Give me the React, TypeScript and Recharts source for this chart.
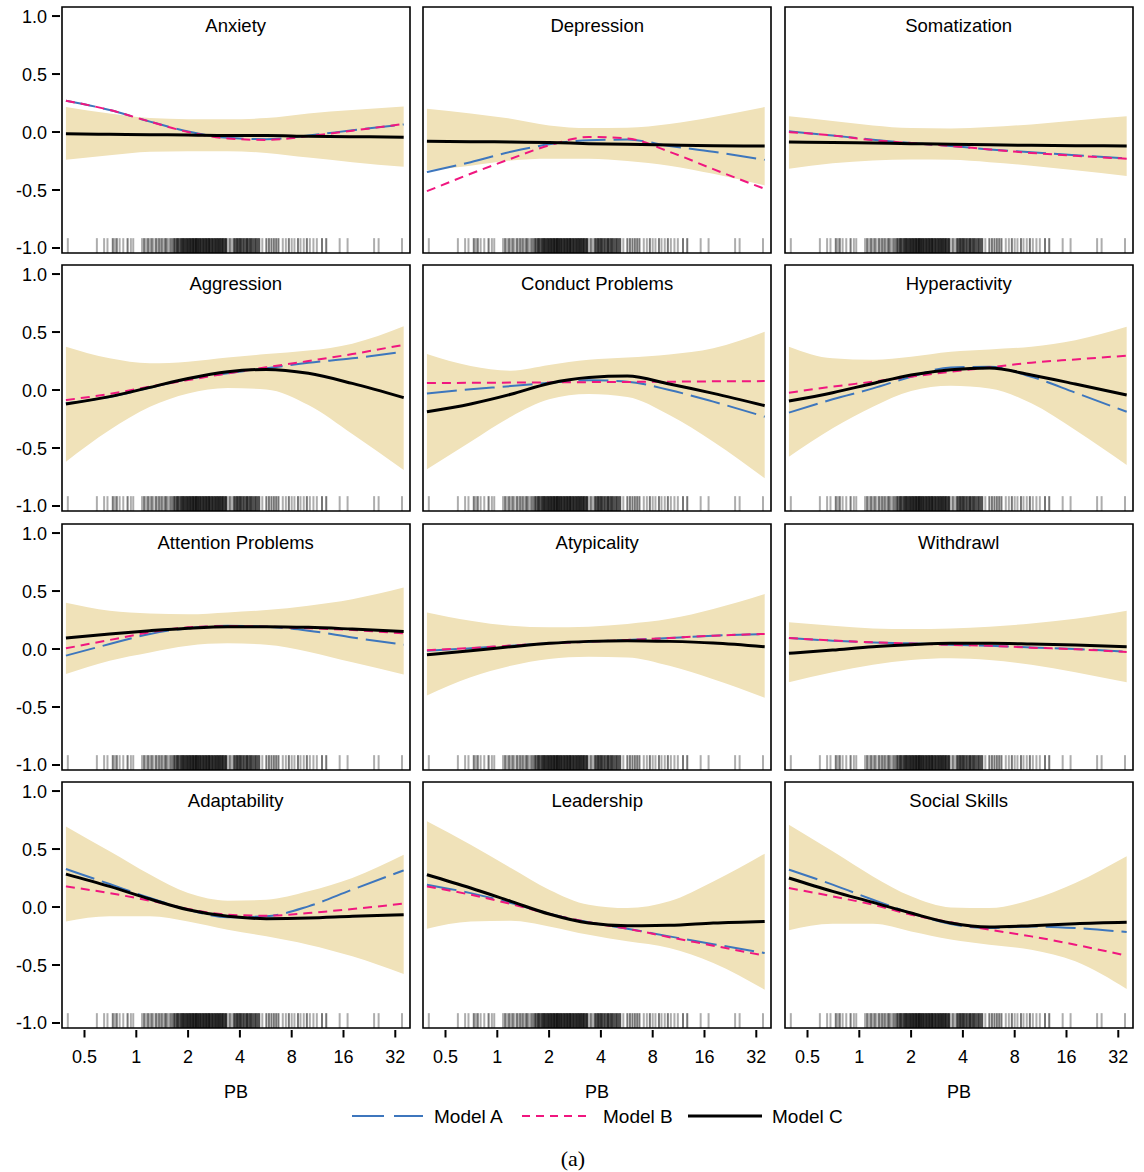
import React from 'react';
import { ComposedChart, Area, Line, XAxis, YAxis, ReferenceLine, ReferenceArea } from 'recharts';

// ---------- data ----------
const PB = [0.39, 0.7, 1.2, 2, 3.4, 5.7, 10, 18, 35.8];
const X_TICKS = [0.5, 1, 2, 4, 8, 16, 32];
const Y_TICKS = [-1, -0.5, 0, 0.5, 1];

const anxietyLo = [-0.24, -0.2, -0.17, -0.165, -0.165, -0.18, -0.22, -0.26, -0.3];
const anxietyHi = [0.216, 0.16, 0.12, 0.11, 0.11, 0.12, 0.16, 0.19, 0.22];
const anxietyA = [0.27, 0.19, 0.09, 0.005, -0.05, -0.062, -0.03, 0.015, 0.065];
const anxietyB = [0.27, 0.19, 0.09, 0.0, -0.055, -0.068, -0.035, 0.012, 0.07];
const anxietyC = [-0.015, -0.02, -0.023, -0.026, -0.03, -0.03, -0.037, -0.04, -0.045];

const depressionLo = [-0.33, -0.29, -0.245, -0.23, -0.23, -0.25, -0.29, -0.36, -0.46];
const depressionHi = [0.2, 0.16, 0.115, 0.057, 0.034, 0.037, 0.07, 0.13, 0.215];
const depressionA = [-0.345, -0.26, -0.17, -0.106, -0.07, -0.065, -0.12, -0.17, -0.24];
const depressionB = [-0.51, -0.36, -0.23, -0.115, -0.043, -0.055, -0.17, -0.32, -0.49];
const depressionC = [-0.08, -0.083, -0.086, -0.09, -0.1, -0.106, -0.112, -0.118, -0.12];

const somatizationLo = [-0.316, -0.27, -0.245, -0.236, -0.24, -0.26, -0.29, -0.33, -0.38];
const somatizationHi = [0.135, 0.095, 0.057, 0.034, 0.03, 0.043, 0.066, 0.1, 0.135];
const somatizationA = [0.006, -0.03, -0.066, -0.095, -0.12, -0.15, -0.175, -0.2, -0.227];
const somatizationB = [0.0, -0.03, -0.07, -0.095, -0.12, -0.15, -0.18, -0.205, -0.23];
const somatizationC = [-0.086, -0.09, -0.095, -0.1, -0.106, -0.11, -0.115, -0.118, -0.12];

const aggressionLo = [-0.618, -0.345, -0.144, -0.029, 0.017, 0.005, -0.13, -0.38, -0.69];
const aggressionHi = [0.374, 0.273, 0.23, 0.244, 0.28, 0.31, 0.34, 0.4, 0.55];
const aggressionA = [-0.115, -0.06, 0.02, 0.095, 0.144, 0.187, 0.236, 0.273, 0.33];
const aggressionB = [-0.086, -0.034, 0.029, 0.086, 0.144, 0.196, 0.25, 0.31, 0.39];
const aggressionC = [-0.12, -0.057, 0.023, 0.1, 0.158, 0.178, 0.144, 0.057, -0.066];

const conductLo = [-0.684, -0.445, -0.23, -0.08, -0.034, -0.06, -0.215, -0.445, -0.76];
const conductHi = [0.31, 0.207, 0.167, 0.216, 0.26, 0.28, 0.307, 0.36, 0.503];
const conductA = [-0.029, 0.006, 0.034, 0.063, 0.085, 0.072, 0.0, -0.1, -0.23];
const conductB = [0.06, 0.062, 0.064, 0.066, 0.068, 0.07, 0.072, 0.075, 0.077];
const conductC = [-0.187, -0.12, -0.037, 0.057, 0.108, 0.12, 0.052, -0.029, -0.135];

const hyperLo = [-0.575, -0.33, -0.144, -0.009, 0.037, 0.014, -0.115, -0.345, -0.647];
const hyperHi = [0.374, 0.273, 0.26, 0.287, 0.33, 0.35, 0.374, 0.43, 0.546];
const hyperA = [-0.195, -0.08, 0.014, 0.115, 0.195, 0.2, 0.115, -0.023, -0.187];
const hyperB = [-0.023, 0.029, 0.072, 0.115, 0.158, 0.195, 0.236, 0.264, 0.296];
const hyperC = [-0.095, -0.023, 0.057, 0.13, 0.175, 0.19, 0.13, 0.052, -0.043];

const attentionLo = [-0.215, -0.1, -0.029, 0.029, 0.049, 0.037, -0.023, -0.115, -0.22];
const attentionHi = [0.4, 0.33, 0.307, 0.3, 0.316, 0.336, 0.374, 0.43, 0.53];
const attentionA = [-0.057, 0.043, 0.13, 0.18, 0.2, 0.193, 0.158, 0.1, 0.037];
const attentionB = [0.006, 0.078, 0.144, 0.187, 0.198, 0.193, 0.18, 0.164, 0.135];
const attentionC = [0.095, 0.13, 0.158, 0.18, 0.193, 0.193, 0.187, 0.172, 0.152];

const atypicalityLo = [-0.4, -0.244, -0.144, -0.086, -0.066, -0.072, -0.144, -0.26, -0.42];
const atypicalityHi = [0.316, 0.244, 0.2, 0.187, 0.193, 0.216, 0.26, 0.345, 0.474];
const atypicalityA = [-0.014, 0.006, 0.029, 0.049, 0.063, 0.078, 0.095, 0.115, 0.13];
const atypicalityB = [-0.01, 0.008, 0.03, 0.05, 0.063, 0.078, 0.095, 0.115, 0.13];
const atypicalityC = [-0.049, -0.014, 0.02, 0.049, 0.066, 0.072, 0.066, 0.052, 0.02];

const withdrawlLo = [-0.287, -0.2, -0.135, -0.095, -0.08, -0.095, -0.135, -0.2, -0.287];
const withdrawlHi = [0.23, 0.2, 0.178, 0.172, 0.178, 0.193, 0.22, 0.26, 0.33];
const withdrawlA = [0.095, 0.072, 0.057, 0.049, 0.037, 0.029, 0.014, 0.0, -0.023];
const withdrawlB = [0.095, 0.074, 0.058, 0.048, 0.036, 0.028, 0.012, -0.002, -0.025];
const withdrawlC = [-0.037, -0.009, 0.02, 0.037, 0.049, 0.049, 0.043, 0.034, 0.02];

const adaptLo = [-0.124, -0.08, -0.08, -0.124, -0.195, -0.253, -0.325, -0.425, -0.578];
const adaptHi = [0.695, 0.48, 0.28, 0.12, 0.055, 0.063, 0.135, 0.25, 0.45];
const adaptA = [0.328, 0.198, 0.078, -0.023, -0.089, -0.08, 0.006, 0.15, 0.316];
const adaptB = [0.178, 0.12, 0.055, -0.017, -0.066, -0.075, -0.052, -0.017, 0.029];
const adaptC = [0.284, 0.178, 0.069, -0.023, -0.08, -0.1, -0.095, -0.08, -0.066];

const leaderLo = [-0.187, -0.124, -0.118, -0.167, -0.24, -0.296, -0.353, -0.483, -0.713];
const leaderHi = [0.74, 0.537, 0.336, 0.15, 0.02, -0.009, 0.049, 0.22, 0.46];
const leaderA = [0.193, 0.12, 0.034, -0.057, -0.132, -0.187, -0.253, -0.32, -0.397];
const leaderB = [0.178, 0.106, 0.026, -0.06, -0.132, -0.187, -0.26, -0.333, -0.42];
const leaderC = [0.279, 0.164, 0.049, -0.06, -0.138, -0.161, -0.158, -0.138, -0.124];

const socialLo = [-0.2, -0.144, -0.144, -0.21, -0.28, -0.325, -0.368, -0.468, -0.707];
const socialHi = [0.71, 0.48, 0.264, 0.092, -0.003, -0.009, 0.063, 0.207, 0.437];
const socialA = [0.322, 0.193, 0.063, -0.052, -0.147, -0.181, -0.167, -0.181, -0.216];
const socialB = [0.164, 0.092, 0.02, -0.066, -0.132, -0.195, -0.253, -0.325, -0.42];
const socialC = [0.25, 0.135, 0.04, -0.052, -0.138, -0.172, -0.161, -0.144, -0.132];

// rug: [PB value, number of observations]
const RUG: [number, number][] = [
  [0.40, 1], [0.59, 1], [0.65, 1], [0.68, 1], [0.73, 2], [0.75, 1], [0.77, 2], [0.80, 1], [0.84, 1], [0.89, 2], [0.93, 1], [0.96, 1],
  [1.08, 1], [1.11, 2], [1.14, 1], [1.17, 2], [1.20, 1], [1.23, 2], [1.26, 1], [1.30, 2], [1.33, 1], [1.36, 2], [1.40, 2], [1.43, 1],
  [1.47, 2], [1.50, 2], [1.54, 1], [1.58, 2], [1.62, 2],
  [1.66, 3], [1.69, 2], [1.72, 3], [1.75, 3], [1.78, 2], [1.81, 3], [1.84, 3], [1.87, 3],
  [1.90, 4], [1.94, 4], [1.98, 5], [2.02, 4], [2.06, 5], [2.10, 4], [2.14, 5], [2.18, 4], [2.22, 5], [2.26, 4],
  [2.30, 5], [2.35, 5], [2.40, 4], [2.45, 5], [2.50, 4], [2.55, 5], [2.60, 4], [2.65, 5], [2.70, 4], [2.76, 5],
  [2.82, 4], [2.88, 5], [2.94, 4], [3.00, 5], [3.06, 4], [3.12, 4], [3.18, 5], [3.25, 4], [3.32, 4],
  [3.40, 1], [3.50, 2], [3.60, 1],
  [3.70, 3], [3.78, 3], [3.86, 4], [3.94, 3], [4.02, 4], [4.10, 3], [4.20, 4], [4.30, 3], [4.40, 4], [4.50, 3],
  [4.60, 4], [4.70, 3], [4.82, 3], [4.94, 4], [5.06, 3], [5.18, 3],
  [5.40, 1],
  [5.70, 2], [5.90, 2], [6.10, 2], [6.30, 2], [6.50, 2], [6.70, 2],
  [7.10, 1], [7.40, 1], [7.70, 2], [8.00, 1], [8.30, 1], [8.70, 2], [9.00, 1], [9.40, 1], [9.80, 2], [10.2, 1], [10.7, 1], [11.2, 1],
  [12.0, 2], [12.7, 2], [15.2, 1], [16.9, 1], [24.1, 1], [25.6, 1], [35.0, 1],
];

const TITLES = [
  'Anxiety', 'Depression', 'Somatization',
  'Aggression', 'Conduct Problems', 'Hyperactivity',
  'Attention Problems', 'Atypicality', 'Withdrawl',
  'Adaptability', 'Leadership', 'Social Skills',
];

const PANELS = [
  { lo: anxietyLo, hi: anxietyHi, a: anxietyA, b: anxietyB, c: anxietyC },
  { lo: depressionLo, hi: depressionHi, a: depressionA, b: depressionB, c: depressionC },
  { lo: somatizationLo, hi: somatizationHi, a: somatizationA, b: somatizationB, c: somatizationC },
  { lo: aggressionLo, hi: aggressionHi, a: aggressionA, b: aggressionB, c: aggressionC },
  { lo: conductLo, hi: conductHi, a: conductA, b: conductB, c: conductC },
  { lo: hyperLo, hi: hyperHi, a: hyperA, b: hyperB, c: hyperC },
  { lo: attentionLo, hi: attentionHi, a: attentionA, b: attentionB, c: attentionC },
  { lo: atypicalityLo, hi: atypicalityHi, a: atypicalityA, b: atypicalityB, c: atypicalityC },
  { lo: withdrawlLo, hi: withdrawlHi, a: withdrawlA, b: withdrawlB, c: withdrawlC },
  { lo: adaptLo, hi: adaptHi, a: adaptA, b: adaptB, c: adaptC },
  { lo: leaderLo, hi: leaderHi, a: leaderA, b: leaderB, c: leaderC },
  { lo: socialLo, hi: socialHi, a: socialA, b: socialB, c: socialC },
];

// ---------- layout / style ----------
const X_DOMAIN: [number, number] = [0.37, 38.96];
const Y_DOMAIN: [number, number] = [-1.043, 1.078];
const RUG_TOP = -0.915;
const FRAME_LEFT = [61.7, 423.2, 784.7];
const FRAME_TOP = [6.7, 265.2, 523.7, 782.2];
const FW = 348;
const FH = 246;
const PAD = 10;
const Y_AXIS_W = 62;
const X_AXIS_H = 70;
const FONT = '"Liberation Sans", Arial, Helvetica, sans-serif';
const BAND = '#F0E2B9';
const BLUE = '#3D76BD';
const PINK = '#F0167F';

const YTick = (props: any) => {
  const { x, y, payload } = props;
  return (
    <g>
      <line x1={x + 5} x2={x + 13} y1={y} y2={y} stroke="#000" strokeWidth={2} />
      <text x={x} y={y} dy="0.36em" textAnchor="end" fontSize={18} fontFamily={FONT} fill="#000">
        {Number(payload.value).toFixed(1)}
      </text>
    </g>
  );
};

const XTick = (props: any) => {
  const { x, y, payload } = props;
  return (
    <g>
      <line x1={x} x2={x} y1={y - 20.7} y2={y - 13.2} stroke="#000" strokeWidth={2} />
      <text x={x} y={y} dy="0.71em" textAnchor="middle" fontSize={18} fontFamily={FONT} fill="#000">
        {String(payload.value)}
      </text>
    </g>
  );
};

function Panel({ idx }: { idx: number }) {
  const row = Math.floor(idx / 3);
  const col = idx % 3;
  const p = PANELS[idx];
  const data = PB.map((pb, k) => ({ pb, band: [p.lo[k], p.hi[k]], a: p.a[k], b: p.b[k], c: p.c[k] }));
  const showY = col === 0;
  const showX = row === 3;
  const yW = showY ? Y_AXIS_W : 0;
  const xH = showX ? X_AXIS_H : 0;
  const width = yW + FW + 2 * PAD;
  const height = FH + 2 * PAD + xH;
  return (
    <div style={{ position: 'absolute', left: FRAME_LEFT[col] - yW - PAD, top: FRAME_TOP[row] - PAD, width, height }}>
      <ComposedChart width={width} height={height} data={data} margin={{ top: PAD, right: PAD, bottom: PAD, left: PAD }}>
        <XAxis
          dataKey="pb"
          type="number"
          scale="log"
          domain={X_DOMAIN}
          allowDataOverflow
          ticks={X_TICKS}
          interval={0}
          hide={!showX}
          height={X_AXIS_H}
          axisLine={false}
          tickLine={false}
          tickSize={10}
          tickMargin={12.7}
          tick={<XTick />}
          label={{ value: 'PB', position: 'insideBottom', offset: 0, fill: '#000', fontSize: 18, fontFamily: FONT }}
        />
        <YAxis
          type="number"
          domain={Y_DOMAIN}
          allowDataOverflow
          ticks={Y_TICKS}
          interval={0}
          hide={!showY}
          width={Y_AXIS_W}
          axisLine={false}
          tickLine={false}
          tickSize={10}
          tickMargin={5}
          tick={<YTick />}
        />
        <Area dataKey="band" type="monotone" fill={BAND} fillOpacity={1} stroke="none" isAnimationActive={false} />
        {RUG.map(([v, n], k) => (
          <ReferenceLine
            key={'r' + k}
            segment={[{ x: v, y: RUG_TOP }, { x: v, y: Y_DOMAIN[0] }]}
            stroke="#000"
            strokeOpacity={1 - Math.pow(0.68, n)}
            strokeWidth={2}
            ifOverflow="visible"
          />
        ))}
        <Line dataKey="a" type="monotone" stroke={BLUE} strokeWidth={2} strokeDasharray="30 8" dot={false} activeDot={false} isAnimationActive={false} />
        <Line dataKey="b" type="monotone" stroke={PINK} strokeWidth={2} strokeDasharray="9 6" dot={false} activeDot={false} isAnimationActive={false} />
        <Line dataKey="c" type="monotone" stroke="#000" strokeWidth={3} dot={false} activeDot={false} isAnimationActive={false} />
        <ReferenceArea
          x1={X_DOMAIN[0]}
          x2={X_DOMAIN[1]}
          y1={Y_DOMAIN[0]}
          y2={Y_DOMAIN[1]}
          fill="none"
          fillOpacity={0}
          stroke="#000"
          strokeWidth={1.6}
          ifOverflow="visible"
        />
      </ComposedChart>
    </div>
  );
}

export default function App() {
  return (
    <div style={{ position: 'absolute', left: 0, top: 0, width: 1144, height: 1172, background: '#fff', overflow: 'hidden' }}>
      {TITLES.map((_, i) => (
        <Panel key={i} idx={i} />
      ))}
      <svg width={1144} height={1172} style={{ position: 'absolute', left: 0, top: 0, pointerEvents: 'none' }}>
        {TITLES.map((t, i) => {
          const row = Math.floor(i / 3);
          const col = i % 3;
          return (
            <text key={t} x={FRAME_LEFT[col] + FW / 2} y={FRAME_TOP[row] + 25} textAnchor="middle" fontSize={18.5} fontFamily={FONT} fill="#000">
              {t}
            </text>
          );
        })}
        <line x1={352} x2={423} y1={1116} y2={1116} stroke={BLUE} strokeWidth={2} strokeDasharray="32 10" />
        <text x={434} y={1123} fontSize={19} fontFamily={FONT} fill="#000">Model A</text>
        <line x1={522} x2={590} y1={1116} y2={1116} stroke={PINK} strokeWidth={2} strokeDasharray="8 6" />
        <text x={603} y={1123} fontSize={19} fontFamily={FONT} fill="#000">Model B</text>
        <line x1={688} x2={762} y1={1116} y2={1116} stroke="#000" strokeWidth={3} />
        <text x={772} y={1123} fontSize={19} fontFamily={FONT} fill="#000">Model C</text>
        <text x={573} y={1166} textAnchor="middle" fontSize={22} fontFamily='"Liberation Serif", "DejaVu Serif", serif' fill="#000">(a)</text>
      </svg>
    </div>
  );
}
